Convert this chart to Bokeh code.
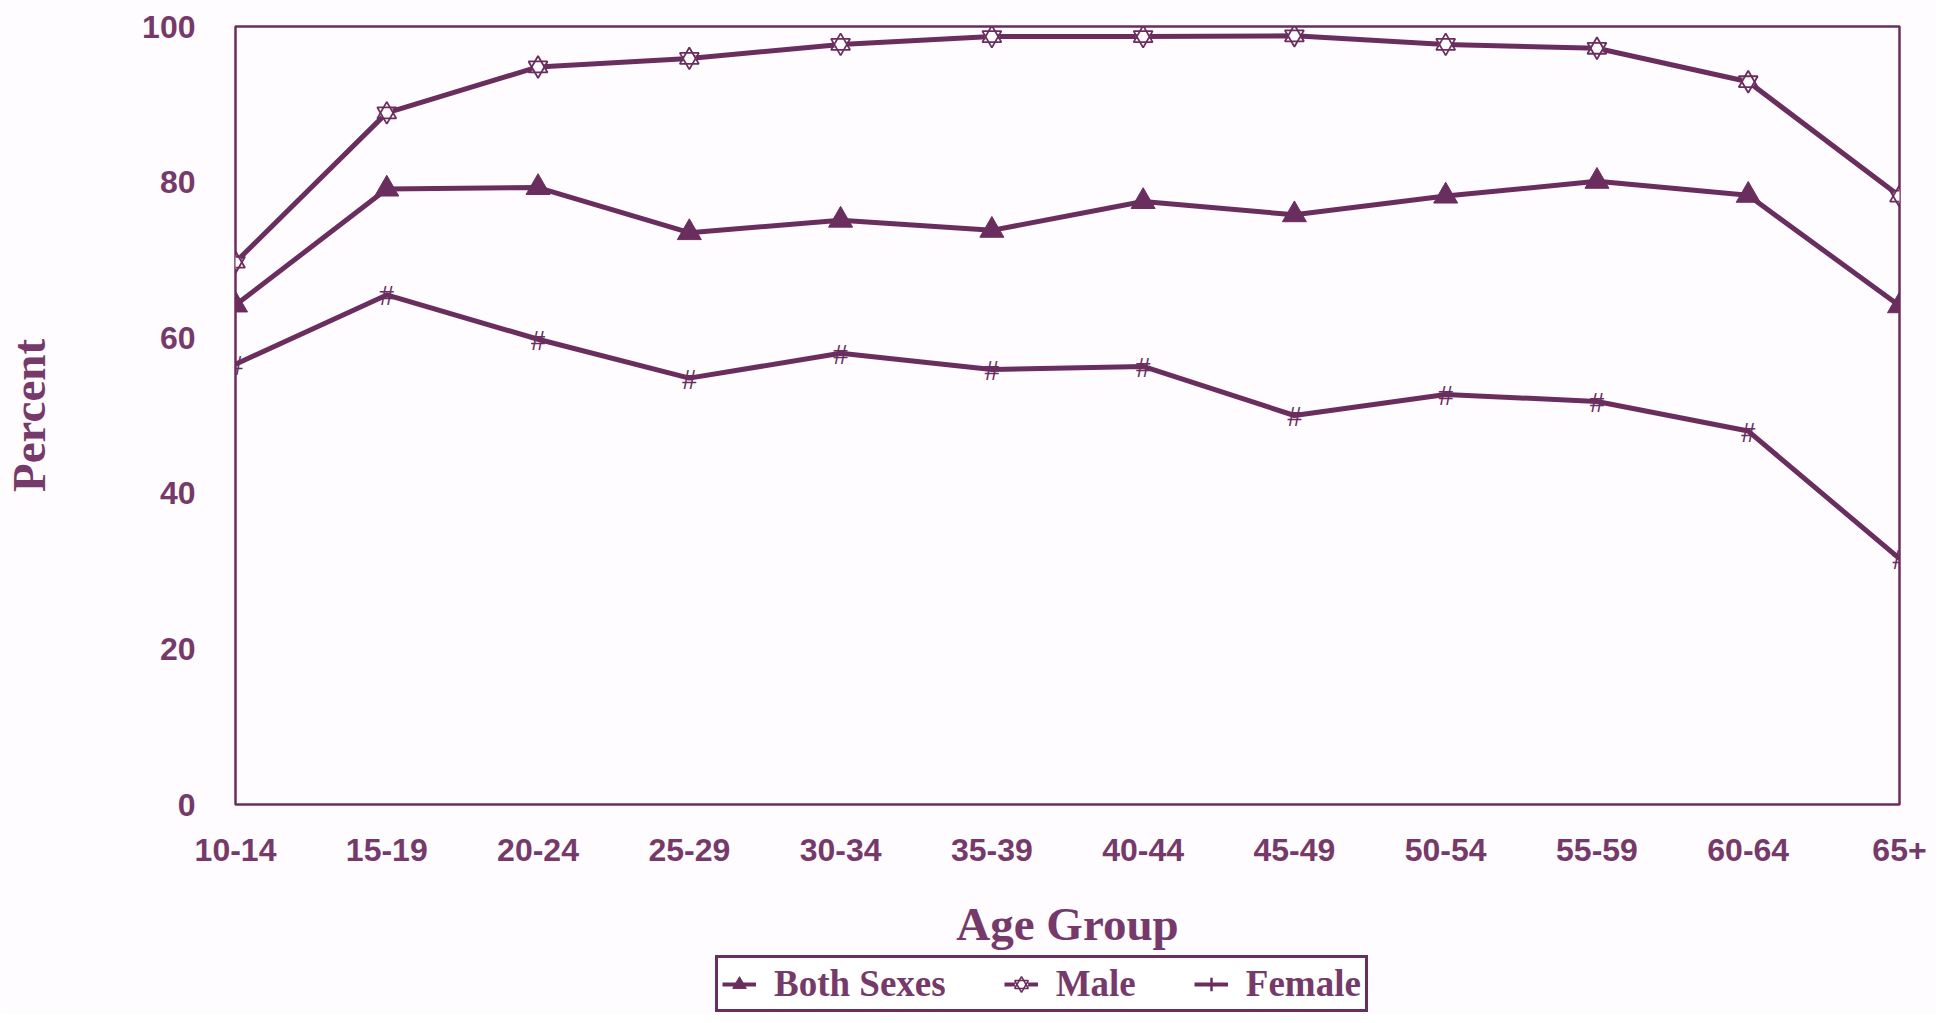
from bokeh.plotting import figure
from bokeh.layouts import column
from bokeh.models import FixedTicker, Legend, LegendItem, ColumnDataSource, Range1d
from bokeh.core.properties import value
from bokeh.embed import file_html
from bokeh.resources import INLINE

# ---- data ----
age_groups = ["10-14", "15-19", "20-24", "25-29", "30-34", "35-39",
              "40-44", "45-49", "50-54", "55-59", "60-64", "65+"]
both_sexes = [64.2, 79.1, 79.3, 73.5, 75.1, 73.8, 77.5, 75.8, 78.2, 80.1, 78.3, 64.1]
male = [69.7, 88.9, 94.8, 95.9, 97.7, 98.7, 98.7, 98.8, 97.7, 97.2, 92.9, 78.2]
female = [56.6, 65.5, 59.8, 54.8, 58.0, 55.9, 56.3, 50.0, 52.7, 51.8, 48.0, 31.6]
y_ticks = [0, 20, 40, 60, 80, 100]

PURPLE = "#6a2e5e"
TEXT = "#763a6a"
BG = "#fefcfe"

x = list(range(len(age_groups)))
src = ColumnDataSource(dict(x=x, both=both_sexes, male=male, female=female,
                            mark=["#"] * len(x)))

p = figure(width=1936, height=952,
           x_range=Range1d(0, len(age_groups) - 1), y_range=Range1d(0, 100),
           output_backend="svg", toolbar_location=None,
           min_border_left=230, min_border_right=37, min_border_top=26,
           min_border_bottom=148,
           background_fill_color=BG, border_fill_color=BG)

p.outline_line_color = PURPLE
p.outline_line_width = 2.5
p.xgrid.visible = False
p.ygrid.visible = False

for ax in (p.xaxis[0], p.yaxis[0]):
    ax.axis_line_color = None
    ax.major_tick_line_color = None
    ax.minor_tick_line_color = None
    ax.major_tick_out = 0
    ax.major_tick_in = 0
    ax.major_label_text_font = "Liberation Sans"
    ax.major_label_text_font_style = "bold"
    ax.major_label_text_font_size = "32px"
    ax.major_label_text_color = TEXT
    ax.axis_label_text_font = "Liberation Serif"
    ax.axis_label_text_font_style = "bold"
    ax.axis_label_text_font_size = "47px"
    ax.axis_label_text_color = TEXT

p.xaxis.ticker = FixedTicker(ticks=x)
p.xaxis.major_label_overrides = {i: lab for i, lab in enumerate(age_groups)}
p.xaxis.major_label_standoff = 34
p.xaxis.axis_label = "Age Group"
p.xaxis.axis_label_standoff = 34

p.yaxis.ticker = FixedTicker(ticks=y_ticks)
p.yaxis.major_label_standoff = 40
p.yaxis.axis_label = "Percent"
p.yaxis.axis_label_standoff = 84

LW = 5
# Both sexes
p.line("x", "both", source=src, line_color=PURPLE, line_width=LW)
p.scatter("x", "both", source=src, marker="triangle", size=24,
          fill_color=PURPLE, line_color=PURPLE)
# Male
p.line("x", "male", source=src, line_color=PURPLE, line_width=LW)
p.scatter("x", "male", source=src, marker="hex", size=15,
          fill_color=BG, line_color=None)
p.scatter("x", "male", source=src, marker="triangle", size=19,
          fill_color=None, line_color=PURPLE, line_width=1.8)
p.scatter("x", "male", source=src, marker="inverted_triangle", size=19,
          fill_color=None, line_color=PURPLE, line_width=1.8)
# Female
p.line("x", "female", source=src, line_color=PURPLE, line_width=LW)
p.text("x", "female", text="mark", source=src,
       text_font=value("Liberation Serif"), text_font_size="30px",
       text_color=PURPLE, text_align="center", text_baseline="middle")

# ---- legend strip below the chart (its renderers lie outside its view) ----
pl = figure(width=1936, height=62, x_range=Range1d(-3, -2), y_range=Range1d(-3, -2),
            output_backend="svg", toolbar_location=None,
            min_border_left=0, min_border_right=0, min_border_top=0,
            min_border_bottom=0, background_fill_color=BG, border_fill_color=BG)
pl.axis.visible = False
pl.grid.visible = False
pl.outline_line_color = None

lb1 = pl.line("x", "both", source=src, line_color=PURPLE, line_width=4)
lb2 = pl.scatter("x", "both", source=src, marker="triangle", size=20,
                 fill_color=PURPLE, line_color=PURPLE)
lm1 = pl.line("x", "male", source=src, line_color=PURPLE, line_width=4)
lm2 = pl.scatter("x", "male", source=src, marker="hex", size=13,
                 fill_color="white", line_color=None)
lm3 = pl.scatter("x", "male", source=src, marker="triangle", size=17,
                 fill_color=None, line_color=PURPLE, line_width=1.6)
lm4 = pl.scatter("x", "male", source=src, marker="inverted_triangle", size=17,
                 fill_color=None, line_color=PURPLE, line_width=1.6)
lf1 = pl.line("x", "female", source=src, line_color=PURPLE, line_width=4)
lf2 = pl.scatter("x", "female", source=src, marker="cross", size=20, angle=0.35,
                 line_color=PURPLE, line_width=2.5)

legend = Legend(items=[
    LegendItem(label="Both Sexes", renderers=[lb1, lb2]),
    LegendItem(label="Male", renderers=[lm1, lm2, lm3, lm4]),
    LegendItem(label="Female", renderers=[lf1, lf2]),
], orientation="horizontal", location=(480, 2))
legend.border_line_color = PURPLE
legend.border_line_width = 3.5
legend.border_line_alpha = 1.0
legend.background_fill_color = "white"
legend.background_fill_alpha = 1.0
legend.label_text_font = "Liberation Serif"
legend.label_text_font_style = "bold"
legend.label_text_font_size = "37px"
legend.label_text_color = TEXT
legend.glyph_width = 34
legend.glyph_height = 34
legend.label_standoff = 18
legend.spacing = 58
legend.padding = 4
legend.margin = 0
pl.add_layout(legend, "center")

layout = column(p, pl, spacing=0)
open("out.html", "w").write(file_html(layout, INLINE))
